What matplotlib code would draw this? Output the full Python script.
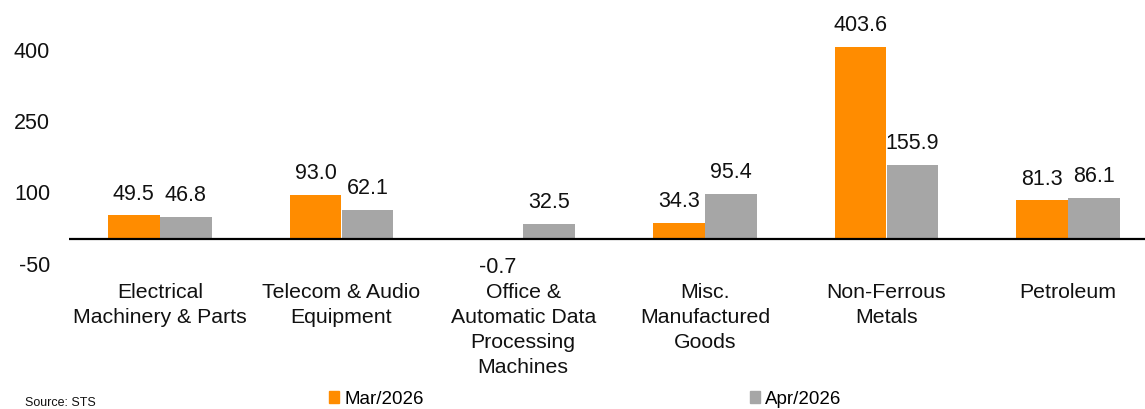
import matplotlib.pyplot as plt
import numpy as np
from matplotlib.patches import Patch

categories = [
    "Electrical\nMachinery & Parts",
    "Telecom & Audio\nEquipment",
    "Office &\nAutomatic Data\nProcessing\nMachines",
    "Misc.\nManufactured\nGoods",
    "Non-Ferrous\nMetals",
    "Petroleum",
]
mar_2026 = [49.5, 93.0, -0.7, 34.3, 403.6, 81.3]
apr_2026 = [46.8, 62.1, 32.5, 95.4, 155.9, 86.1]
series_names = ["Mar/2026", "Apr/2026"]
yticks = [-50, 100, 250, 400]

ORANGE = "#FF8C00"
GRAY = "#A6A6A6"
TXT = "#111111"

plt.rcParams['font.family'] = ['Liberation Sans', 'DejaVu Sans']
plt.rcParams['axes.unicode_minus'] = False

W, H = 1145, 410
fig = plt.figure(figsize=(W / 100, H / 100), dpi=100)
# axes runs a little past the right edge, as in the cropped original
ax = fig.add_axes([69 / W, (H - 263.75) / H, 1090 / W, 237.5 / H])

x = np.arange(len(categories))
width = 0.286
b1 = ax.bar(x - width / 2, mar_2026, width, color=ORANGE, label=series_names[0])
b2 = ax.bar(x + width / 2, apr_2026, width, color=GRAY, label=series_names[1])

for bars, vals in [(b1, mar_2026), (b2, apr_2026)]:
    for bar, v in zip(bars, vals):
        cx = bar.get_x() + bar.get_width() / 2
        if v >= 0:
            ax.annotate(f"{v:.1f}", (cx, v), xytext=(0, 8.5), textcoords="offset points",
                        ha="center", va="bottom", fontsize=15.5, color=TXT)
        else:
            ax.annotate(f"{v:.1f}", (cx, v), xytext=(0, -12), textcoords="offset points",
                        ha="center", va="top", fontsize=15.5, color=TXT)

ax.axhline(0, color="black", lw=1.6, zorder=3)
ax.set_xlim(-0.5, len(categories) - 0.5)
ax.set_ylim(-50, 450)
ax.set_yticks(yticks)
ax.set_xticks(x)
ax.set_xticklabels(categories, fontsize=15.3, linespacing=1.4, color=TXT)
ax.tick_params(axis="x", length=0, pad=14)
ax.tick_params(axis="y", length=0, pad=13.5, labelsize=15.5, labelcolor=TXT)
for s in ax.spines.values():
    s.set_visible(False)

handles = [Patch(color=ORANGE), Patch(color=GRAY)]
fig.legend(handles, series_names, loc="lower left", bbox_to_anchor=(329 / W, 1.5 / H),
           ncol=2, frameon=False, fontsize=13.5, handlelength=0.55, handleheight=0.55,
           handletextpad=0.25, columnspacing=17.4, borderpad=0, borderaxespad=0)

fig.text(25 / W, 1 / H, "Source: STS", fontsize=9, va="bottom", ha="left", color=TXT)

fig.savefig("out.png", dpi=100)
